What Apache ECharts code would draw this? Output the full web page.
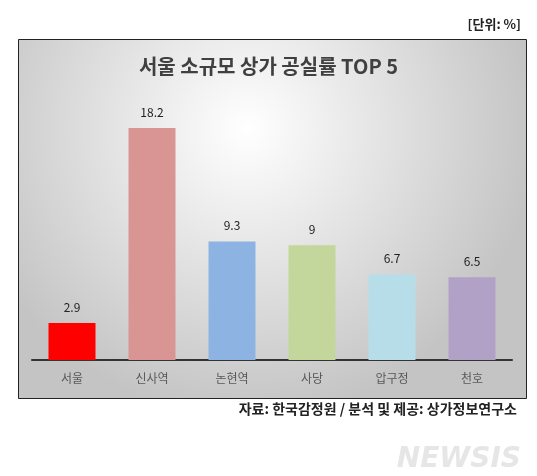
<!DOCTYPE html>
<html>
<head>
<meta charset="utf-8">
<script src="https://cdn.jsdelivr.net/npm/echarts@6/dist/echarts.min.js"></script>
<style>
  html, body { margin: 0; padding: 0; background: #fff; }
  #chart { width: 537px; height: 476px; }
</style>
</head>
<body>
<div id="chart"></div>
<script>
const categories = ['서울', '신사역', '논현역', '사당', '압구정', '천호']
const values = [2.9, 18.2, 9.3, 9, 6.7, 6.5]
const colors = ['#FF0000', '#D99594', '#8DB3E2', '#C3D69B', '#B7DDE8', '#B2A1C7']

const font = '"Noto Sans CJK KR", sans-serif'
const chart = echarts.init(document.getElementById('chart'))

chart.setOption({
  animation: false,
  graphic: [
    {
      type: 'rect',
      shape: { x: 18.5, y: 39.5, width: 508, height: 359 },
      style: {
        fill: new echarts.graphic.RadialGradient(0.45, 0.25, 0.8, [
          { offset: 0, color: '#ffffff' },
          { offset: 1, color: '#c4c4c4' },
        ]),
        stroke: '#222',
        lineWidth: 1,
      },
      z: -10,
    },
    {
      type: 'text', right: 16, top: 18,
      style: { text: '[단위: %]', font: 'bold 13px ' + font, fill: '#222' },
    },
    {
      type: 'text', left: 'center', top: 56,
      style: { text: '서울 소규모 상가 공실률 TOP 5', font: 'bold 20px ' + font, fill: '#404040' },
    },
    {
      type: 'text', right: 20, top: 402,
      style: { text: '자료: 한국감정원 / 분석 및 제공: 상가정보연구소', font: 'bold 14px ' + font, fill: '#222' },
    },
    {
      type: 'text', right: 16, top: 446,
      style: { text: 'NEWSIS', font: 'italic bold 28px "DejaVu Sans", sans-serif', fill: '#e6e6e6' },
    },
  ],
  grid: { left: 32, right: 25, top: 105, bottom: 116 },
  xAxis: {
    type: 'category',
    data: categories,
    axisTick: { show: false },
    axisLine: { lineStyle: { color: '#333', width: 2 } },
    axisLabel: { color: '#595959', fontSize: 12, fontFamily: font, margin: 12 },
  },
  yAxis: { type: 'value', min: 0, max: 20, show: false, splitLine: { show: false } },
  series: [{
    type: 'bar',
    barWidth: 47,
    data: values.map((v, i) => ({ value: v, itemStyle: { color: colors[i] } })),
    label: { show: true, position: 'top', distance: 10, color: '#222', fontSize: 12, fontFamily: font },
  }],
})
</script>
</body>
</html>
